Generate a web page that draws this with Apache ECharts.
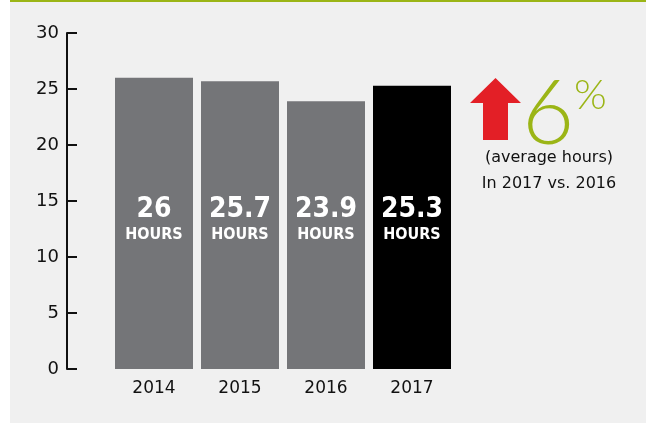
<!DOCTYPE html>
<html>
<head>
<meta charset="utf-8">
<style>
  html, body { margin: 0; padding: 0; background: #ffffff; }
  #chart { width: 652px; height: 423px; }
</style>
<script src="https://cdn.jsdelivr.net/npm/echarts@6/dist/echarts.min.js"></script>
</head>
<body>
<div id="chart"></div>
<script>
// Average hours per year
const years = ['2014', '2015', '2016', '2017'];
const hours = [26, 25.7, 23.9, 25.3];
const barColors = ['#747578', '#747578', '#747578', '#000000'];
const yTicks = [0, 5, 10, 15, 20, 25, 30];

const chart = echarts.init(document.getElementById('chart'), null, { renderer: 'canvas' });

const baseFont = '"DejaVu Sans", sans-serif';
const condFont = '"DejaVu Sans Condensed", "Liberation Sans Narrow", sans-serif';

const option = {
  animation: false,
  graphic: [
    // panel background and green rule
    { type: 'rect', z: -10, silent: true, shape: { x: 10, y: 0, width: 636, height: 423 }, style: { fill: '#f0f0f0' } },
    { type: 'rect', z: -9, silent: true, shape: { x: 10, y: 0, width: 636, height: 2 }, style: { fill: '#9bb516' } },
    // red up arrow
    { type: 'polygon', silent: true,
      shape: { points: [[470, 103], [495.5, 78], [521, 103], [508, 103], [508, 140], [483, 140], [483, 103]] },
      style: { fill: '#e31f26' } },
    { type: 'text', silent: true, left: 522, top: 70,
      style: { text: '6', fill: '#9bb516', font: '300 90px Lato, "Open Sans", sans-serif' } },
    { type: 'text', silent: true, left: 574, top: 74,
      style: { text: '%', fill: '#9bb516', font: '300 42px Lato, "Open Sans", sans-serif' } },
    { type: 'text', silent: true, x: 549, y: 158,
      style: { text: '(average hours)', fill: '#111', align: 'center', verticalAlign: 'middle', font: '16px ' + baseFont } },
    { type: 'text', silent: true, x: 549, y: 184,
      style: { text: 'In 2017 vs. 2016', fill: '#111', align: 'center', verticalAlign: 'middle', font: '16px ' + baseFont } }
  ],
  grid: { left: 111, right: 197, top: 33, bottom: 54, containLabel: false },
  xAxis: {
    type: 'category',
    data: years,
    axisLine: { show: false },
    axisTick: { show: false },
    axisLabel: { color: '#111', fontSize: 17, fontFamily: baseFont, margin: 11 }
  },
  yAxis: {
    type: 'value',
    min: yTicks[0],
    max: yTicks[yTicks.length - 1],
    interval: 5,
    offset: 44,
    splitLine: { show: false },
    axisLine: { show: true, lineStyle: { color: '#111', width: 2 } },
    axisTick: { show: true, inside: true, length: 10, lineStyle: { color: '#111', width: 2 } },
    axisLabel: { color: '#111', fontSize: 18, fontFamily: baseFont, margin: 8 }
  },
  series: [{
    type: 'bar',
    data: hours.map((v, i) => ({ value: v, itemStyle: { color: barColors[i] } })),
    barWidth: 78,
    label: {
      show: true,
      position: 'insideBottom',
      distance: 124,
      align: 'center',
      formatter: p => '{n|' + p.value + '}\n{h|HOURS}',
      rich: {
        n: { color: '#fff', fontSize: 28, lineHeight: 30, fontWeight: 'bold', fontFamily: condFont, align: 'center' },
        h: { color: '#fff', fontSize: 16, lineHeight: 20, fontWeight: 'bold', fontFamily: condFont, align: 'center' }
      }
    }
  }]
};

chart.setOption(option);
</script>
</body>
</html>
